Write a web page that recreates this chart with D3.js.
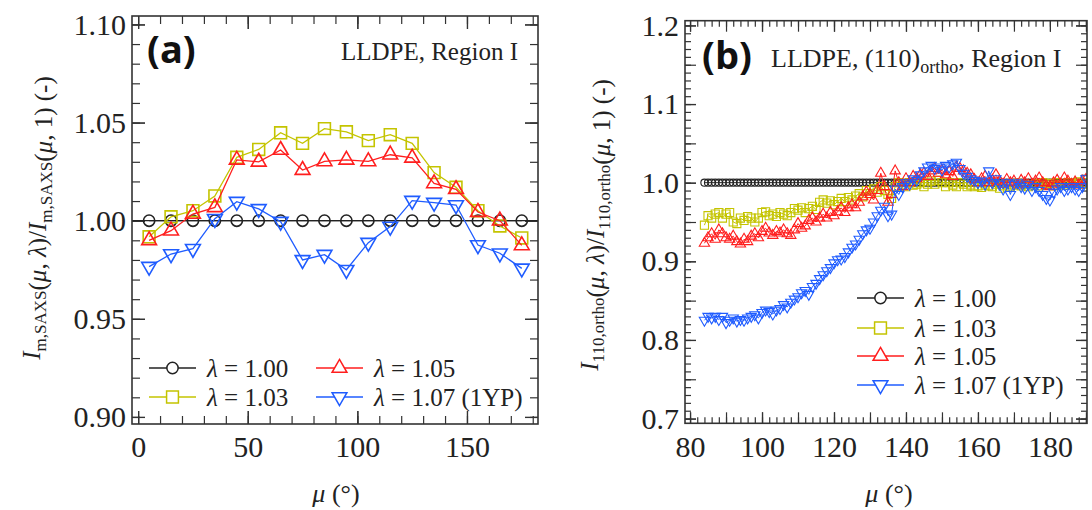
<!DOCTYPE html>
<html>
<head>
<meta charset="utf-8">
<script src="https://cdn.jsdelivr.net/npm/d3@7"></script>
<style>
  body { margin: 0; background: #fff; }
  svg { font-family: "Liberation Serif", "Times New Roman", serif; }
</style>
</head>
<body>
<svg id="chart" width="1092" height="510"></svg>
<script>
// ---------- panel (a) data ----------
const muA = [5, 15, 25, 35, 45, 55, 65, 75, 85, 95, 105, 115, 125, 135, 145, 155, 165, 175];
const a100 = [1, 1, 1, 1, 1, 1, 1, 1, 1, 1, 1, 1, 1, 1, 1, 1, 1, 1];
const a103 = [0.9918, 1.002, 1.0051, 1.0126, 1.0323, 1.0363, 1.0448, 1.0394, 1.0469, 1.0453, 1.0408, 1.0438, 1.0394, 1.0245, 1.017, 1.0051, 0.9973, 0.9912];
const a105 = [0.990, 0.9949, 1.0034, 1.0068, 1.031, 1.030, 1.036, 1.0258, 1.0302, 1.031, 1.0302, 1.0336, 1.032, 1.019, 1.016, 1.0044, 1.000, 0.9874];
const a107 = [0.9766, 0.983, 0.9857, 1.001, 1.0097, 1.006, 0.9995, 0.980, 0.9827, 0.975, 0.9888, 0.997, 1.0102, 1.0092, 1.008, 0.9876, 0.9834, 0.9757];

const xTicksA = [0, 50, 100, 150];
const yTicksA = [0.90, 0.95, 1.00, 1.05, 1.10];

// ---------- panel (b) data ----------
const muB = [84, 85, 86, 87, 88, 89, 90, 91, 92, 93,
  94, 95, 96, 97, 98, 99, 100, 101, 102, 103,
  104, 105, 106, 107, 108, 109, 110, 111, 112, 113,
  114, 115, 116, 117, 118, 119, 120, 121, 122, 123,
  124, 125, 126, 127, 128, 129, 130, 131, 132, 133,
  134, 135, 136, 137, 138, 139, 140, 141, 142, 143,
  144, 145, 146, 147, 148, 149, 150, 151, 152, 153,
  154, 155, 156, 157, 158, 159, 160, 161, 162, 163,
  164, 165, 166, 167, 168, 169, 170, 171, 172, 173,
  174, 175, 176, 177, 178, 179, 180, 181, 182, 183,
  184, 185, 186, 187, 188, 189, 190];
const b100 = [1, 1, 1, 1, 1, 1, 1, 1, 1, 1,
  1, 1, 1, 1, 1, 1, 1, 1, 1, 1,
  1, 1, 1, 1, 1, 1, 1, 1, 1, 1,
  1, 1, 1, 1, 1, 1, 1, 1, 1, 1,
  1, 1, 1, 1, 1, 1, 1, 1, 1, 1,
  1, 1, 1, 1, 1, 1, 1, 1, 1, 1,
  1, 1, 1, 1, 1, 1, 1, 1, 1, 1,
  1, 1, 1, 1, 1, 1, 1, 1, 1, 1,
  1, 1, 1, 1, 1, 1, 1, 1, 1, 1,
  1, 1, 1, 1, 1, 1, 1, 1, 1, 1,
  1, 1, 1, 1, 1, 1, 1];
const b103 = [0.946, 0.958, 0.955, 0.960, 0.962, 0.955, 0.960, 0.962, 0.950, 0.948,
  0.955, 0.952, 0.957, 0.955, 0.950, 0.955, 0.962, 0.963, 0.958, 0.960,
  0.957, 0.962, 0.960, 0.958, 0.962, 0.967, 0.965, 0.968, 0.962, 0.967,
  0.970, 0.966, 0.975, 0.978, 0.974, 0.977, 0.972, 0.976, 0.980, 0.976,
  0.981, 0.978, 0.983, 0.986, 0.982, 0.990, 0.986, 0.992, 0.988, 0.995,
  0.990, 0.985, 0.980, 0.995, 1.000, 0.998, 0.995, 1.000, 0.997, 0.998,
  1.000, 0.995, 0.998, 1.002, 0.998, 1.003, 1.000, 0.995, 1.000, 0.997,
  0.995, 1.000, 0.998, 0.995, 0.997, 0.995, 0.996, 0.994, 0.997, 0.996,
  0.995, 0.998, 0.993, 0.996, 0.998, 0.995, 0.997, 0.999, 0.996, 0.998,
  0.995, 0.997, 0.999, 0.996, 1.000, 0.997, 0.999, 0.996, 1.000, 0.998,
  0.997, 1.000, 0.998, 0.999, 1.001, 0.998, 1.000];
const b105 = [0.923, 0.930, 0.935, 0.928, 0.940, 0.935, 0.930, 0.928, 0.932, 0.925,
  0.922, 0.928, 0.925, 0.932, 0.935, 0.930, 0.938, 0.942, 0.936, 0.933,
  0.938, 0.936, 0.940, 0.935, 0.933, 0.940, 0.948, 0.942, 0.945, 0.952,
  0.955, 0.950, 0.955, 0.960, 0.955, 0.962, 0.958, 0.963, 0.968, 0.962,
  0.968, 0.972, 0.968, 0.975, 0.982, 0.988, 0.985, 0.978, 0.990, 1.012,
  0.995, 0.975, 0.985, 1.015, 1.000, 0.995, 1.005, 1.000, 1.008, 1.005,
  1.010, 1.012, 1.008, 1.015, 1.018, 1.012, 1.016, 1.010, 1.014, 1.008,
  1.020, 1.018, 1.015, 1.012, 1.010, 1.004, 1.000, 1.005, 1.008, 1.000,
  1.003, 1.010, 1.002, 0.998, 1.004, 1.000, 1.002, 0.997, 1.003, 1.000,
  1.005, 0.998, 1.002, 1.006, 1.000, 0.996, 0.995, 1.000, 1.003, 0.998,
  1.006, 1.002, 0.998, 1.001, 0.997, 1.002, 1.004];
const b107 = [0.825, 0.830, 0.828, 0.830, 0.826, 0.830, 0.822, 0.825, 0.828, 0.824,
  0.826, 0.825, 0.828, 0.830, 0.832, 0.828, 0.835, 0.838, 0.836, 0.833,
  0.838, 0.840, 0.845, 0.842, 0.848, 0.852, 0.855, 0.860, 0.863, 0.858,
  0.868, 0.872, 0.878, 0.883, 0.888, 0.892, 0.898, 0.902, 0.903, 0.906,
  0.912, 0.918, 0.922, 0.928, 0.935, 0.940, 0.942, 0.950, 0.958, 0.965,
  0.970, 0.958, 0.960, 0.992, 0.985, 0.995, 1.000, 0.998, 1.005, 1.003,
  1.010, 1.015, 1.020, 1.022, 1.018, 1.020, 1.016, 1.022, 1.020, 1.024,
  1.026, 1.018, 1.012, 1.008, 1.005, 1.003, 1.000, 1.002, 0.998, 1.015,
  1.000, 1.005, 0.998, 0.992, 1.000, 0.985, 0.998, 1.000, 0.995, 0.993,
  0.998, 0.990, 0.995, 0.990, 0.985, 0.980, 0.978, 0.988, 0.992, 0.995,
  0.990, 0.992, 0.995, 0.992, 0.990, 0.995, 1.005];

const xTicksB = [80, 100, 120, 140, 160, 180];
const yTicksB = [0.7, 0.8, 0.9, 1.0, 1.1, 1.2];

const seriesNames = ["1.00", "1.03", "1.05", "1.07 (1YP)"];
const seriesColors = ["#222222", "#c4c400", "#ff1e1e", "#1f5cff"];
const seriesShapes = ["circle", "square", "up", "down"];

const SERIF = '"Liberation Serif", "Times New Roman", serif';
const SANS = '"Open Sans", "DejaVu Sans", sans-serif';
const svg = d3.select("#chart");

// marker path for a shape at a given scale
function marker(shape, big) {
  let type = d3.symbolCircle, size;
  if (shape === "circle") size = big ? 100 : 40;
  if (shape === "square") { type = d3.symbolSquare; size = big ? 140 : 66; }
  if (shape === "up" || shape === "down") { type = d3.symbolTriangle; size = big ? 95 : 46; }
  return d3.symbol().type(type).size(size)();
}

function panel(o) {
  const g = svg.append("g");
  const x = d3.scaleLinear().domain(o.xDomain).range([o.left, o.right]);
  const y = d3.scaleLinear().domain(o.yDomain).range([o.bottom, o.top]);

  svg.append("clipPath").attr("id", "clip-" + o.id)
    .append("rect")
    .attr("x", o.left).attr("y", o.top)
    .attr("width", o.right - o.left).attr("height", o.bottom - o.top);

  // ticks on all four sides, pointing inward
  function ticks(values, len, labelled) {
    const hs = [
      [d3.axisBottom(x), "translate(0," + o.bottom + ")", true],
      [d3.axisTop(x), "translate(0," + o.top + ")", false],
    ];
    const vs = [
      [d3.axisLeft(y), "translate(" + o.left + ",0)", true],
      [d3.axisRight(y), "translate(" + o.right + ",0)", false],
    ];
    hs.forEach(([ax, tr, lab]) => {
      ax.tickValues(values.x).tickSize(-len).tickPadding(12)
        .tickFormat(labelled && lab ? o.xFmt : "");
      const a = g.append("g").attr("transform", tr).call(ax)
        .attr("font-family", SERIF).attr("font-size", 30);
      a.select(".domain").remove();
      a.selectAll("line").attr("stroke", "#333").attr("stroke-width", 1.2);
    });
    vs.forEach(([ax, tr, lab]) => {
      ax.tickValues(values.y).tickSize(-len).tickPadding(6)
        .tickFormat(labelled && lab ? o.yFmt : "");
      const a = g.append("g").attr("transform", tr).call(ax)
        .attr("font-family", SERIF).attr("font-size", 30);
      a.select(".domain").remove();
      a.selectAll("line").attr("stroke", "#333").attr("stroke-width", 1.2);
    });
  }
  ticks({ x: o.xMinor, y: o.yMinor }, o.minorLen, false);
  ticks({ x: o.xMajor, y: o.yMajor }, o.majorLen, false);
  ticks({ x: o.xLabels, y: o.yLabels }, o.majorLen, true);
  g.selectAll(".tick text").attr("fill", "#222");

  // plotted series
  const plot = g.append("g").attr("clip-path", "url(#clip-" + o.id + ")");
  if (o.refLine) {
    plot.append("line")
      .attr("x1", o.left).attr("x2", o.right)
      .attr("y1", y(1)).attr("y2", y(1))
      .attr("stroke", seriesColors[0]).attr("stroke-width", 1.3);
  }
  o.series.forEach((vals, i) => {
    const pts = o.mu.map((m, j) => [m, vals[j]]);
    plot.append("path")
      .attr("d", d3.line().x(d => x(d[0])).y(d => y(d[1]))(pts))
      .attr("fill", "none").attr("stroke", seriesColors[i]).attr("stroke-width", o.lineW);
    plot.selectAll(null).data(pts).enter().append("path")
      .attr("d", marker(seriesShapes[i], o.bigMarkers))
      .attr("transform", d => "translate(" + x(d[0]) + "," + y(d[1]) + ")" +
        (seriesShapes[i] === "down" ? " rotate(180)" : ""))
      .attr("fill", "none").attr("stroke", seriesColors[i]).attr("stroke-width", o.markW);
  });

  // frame
  g.append("rect")
    .attr("x", o.left).attr("y", o.top)
    .attr("width", o.right - o.left).attr("height", o.bottom - o.top)
    .attr("fill", "none").attr("stroke", "#333").attr("stroke-width", 1.6);

  // legend
  o.legend.forEach(([idx, lx, ly]) => {
    g.append("line").attr("x1", lx).attr("x2", lx + 47).attr("y1", ly).attr("y2", ly)
      .attr("stroke", seriesColors[idx]).attr("stroke-width", 1.4);
    g.append("path").attr("d", marker(seriesShapes[idx], true))
      .attr("transform", "translate(" + (lx + 23.5) + "," + ly + ")" +
        (seriesShapes[idx] === "down" ? " rotate(180)" : ""))
      .attr("fill", "#fff").attr("stroke", seriesColors[idx]).attr("stroke-width", 1.5);
    const t = g.append("text").attr("x", lx + 58).attr("y", ly + 9)
      .style("font-size", "25px").attr("fill", "#222");
    t.append("tspan").attr("font-style", "italic").text("λ");
    t.append("tspan").text(" = " + seriesNames[idx]);
  });

  // x title
  const xt = g.append("text").attr("x", o.xTitleX).attr("y", 502)
    .attr("text-anchor", "middle").style("font-size", "26px").attr("fill", "#222");
  xt.append("tspan").attr("font-style", "italic").text("μ");
  xt.append("tspan").text(" (°)");

  // y title (rotated)
  const yt = g.append("text")
    .attr("transform", "translate(" + o.yTitleX + "," + o.yTitleY + ") rotate(-90)")
    .attr("text-anchor", "middle").style("font-size", "25px").attr("fill", "#222");
  const parts = [
    ["I", "italic"], ["sub", o.sub], ["(", null], ["μ", "italic"], [", ", null], ["λ", "italic"],
    [")/", null], ["I", "italic"], ["sub", o.sub], ["(", null], ["μ", "italic"], [", 1) (-)", null],
  ];
  parts.forEach(([s, st]) => {
    if (s === "sub") {
      yt.append("tspan").style("font-size", "17px").attr("dy", 6).text(st);
      yt.append("tspan").attr("dy", -6).text("");
    } else {
      const sp = yt.append("tspan").text(s);
      if (st) sp.attr("font-style", st);
    }
  });

  // panel letter
  g.append("text").attr("x", o.letterX).attr("y", o.letterY)
    .style("font-family", SANS).style("font-weight", "bold").style("font-size", "38px")
    .attr("fill", "#111")
    .text(o.letter);
  return g;
}

// panel (a)
panel({
  id: "a", left: 132, right: 538, top: 16, bottom: 424,
  xDomain: [-2.8, 182.4], yDomain: [0.8964, 1.1043],
  xLabels: xTicksA, yLabels: yTicksA,
  xMajor: xTicksA, yMajor: yTicksA,
  xMinor: d3.range(0, 181, 10), yMinor: d3.range(0.90, 1.1001, 0.01),
  xFmt: d3.format("d"), yFmt: d3.format(".2f"),
  minorLen: 8, majorLen: 13,
  mu: muA, series: [a100, a103, a105, a107],
  refLine: true, bigMarkers: true, lineW: 1.3, markW: 1.6,
  legend: [[0, 149, 368], [1, 149, 397], [2, 316, 368], [3, 316, 397]],
  xTitleX: 336, yTitleX: 40, yTitleY: 218, sub: "m,SAXS",
  letter: "(a)", letterX: 147, letterY: 63,
});
svg.append("text").attr("x", 518).attr("y", 60).attr("text-anchor", "end")
  .style("font-size", "25px").attr("fill", "#222").text("LLDPE, Region I");

// panel (b)
panel({
  id: "b", left: 685, right: 1087, top: 20.7, bottom: 423.3,
  xDomain: [78.6, 190.3], yDomain: [0.694, 1.206],
  xLabels: xTicksB, yLabels: yTicksB,
  xMajor: d3.range(80, 191, 10), yMajor: d3.range(0.70, 1.2001, 0.05),
  xMinor: d3.range(80, 191, 2), yMinor: d3.range(0.70, 1.2001, 0.01),
  xFmt: d3.format("d"), yFmt: d3.format(".1f"),
  minorLen: 6, majorLen: 11,
  mu: muB, series: [b100, b103, b105, b107],
  refLine: false, bigMarkers: false, lineW: 1, markW: 1.1,
  legend: [[0, 857, 298], [1, 857, 328], [2, 857, 356], [3, 857, 385]],
  xTitleX: 889, yTitleX: 598, yTitleY: 225, sub: "110,ortho",
  letter: "(b)", letterX: 702, letterY: 69,
});
const tb = svg.append("text").attr("x", 771).attr("y", 67)
  .style("font-size", "26px").attr("fill", "#222");
tb.append("tspan").text("LLDPE, (110)");
tb.append("tspan").style("font-size", "18px").attr("dy", 6).text("ortho");
tb.append("tspan").attr("dy", -6).text(", Region I");
</script>
</body>
</html>
